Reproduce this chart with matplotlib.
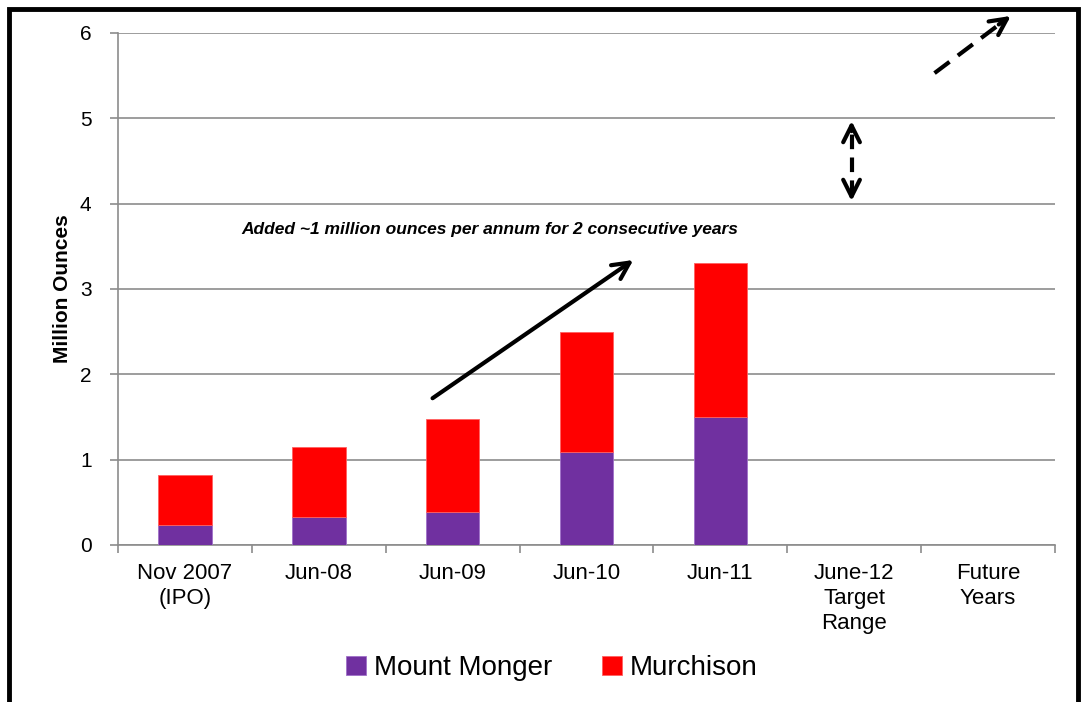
import matplotlib
matplotlib.use('Agg')
import matplotlib.pyplot as plt
from matplotlib.patches import Rectangle
import numpy as np

categories = ['Nov 2007\n(IPO)', 'Jun-08', 'Jun-09', 'Jun-10', 'Jun-11',
              'June-12\nTarget\nRange', 'Future\nYears']
mount_monger = [0.23, 0.33, 0.39, 1.09, 1.50, 0, 0]
murchison = [0.59, 0.82, 1.09, 1.41, 1.80, 0, 0]

purple = '#7030A0'
red = '#FF0000'
grey = '#8C8C8C'

plt.rcParams['font.family'] = ['Liberation Sans', 'DejaVu Sans']

fig = plt.figure(figsize=(10.85, 7.02), dpi=100)
ax = fig.add_axes([118 / 1085, 1 - 545 / 702, (1055 - 118) / 1085, (545 - 33) / 702])

x = np.arange(len(categories))
ax.bar(x, mount_monger, width=0.4, color=purple, edgecolor='#A070C8', linewidth=0.6,
       label='Mount Monger', zorder=3)
ax.bar(x, murchison, width=0.4, bottom=mount_monger, color=red, edgecolor='#FF6060',
       linewidth=0.6, label='Murchison', zorder=3)

ax.set_xlim(-0.5, len(categories) - 0.5)
ax.set_ylim(0, 6)
ax.set_yticks(range(0, 7))
ax.yaxis.grid(True, color=grey, linewidth=1.2, zorder=0)
ax.set_xticks(x)
ax.set_xticklabels(categories, fontsize=16, linespacing=1.25)
ax.set_xticks(np.arange(-0.5, len(categories)), minor=True)
ax.tick_params(axis='x', which='major', length=0, pad=13)
ax.tick_params(axis='x', which='minor', length=6, color=grey, width=1.2, direction='out')
ax.tick_params(axis='y', length=6, color=grey, width=1.2, labelsize=15, pad=13)
for side in ['top', 'right']:
    ax.spines[side].set_visible(False)
for side in ['left', 'bottom']:
    ax.spines[side].set_color(grey)
    ax.spines[side].set_linewidth(1.2)
ax.set_ylabel('Million Ounces', fontsize=15, fontweight='bold', labelpad=6)

head = dict(arrowstyle='->', color='black', lw=3, mutation_scale=30,
            shrinkA=0, shrinkB=0)

# solid growth arrow + annotation
ax.annotate('', xy=(3.35, 3.34), xytext=(1.85, 1.72), arrowprops=head)
ax.text(2.28, 3.70, 'Added ~1 million ounces per annum for 2 consecutive years',
        ha='center', va='center', fontsize=12.5, fontweight='bold', style='italic')

# dashed target range arrow (both ends)
ax.plot([4.98, 4.98], [4.1, 4.9], color='black', lw=3, dashes=(3.5, 2),
        dash_capstyle='butt')
ax.annotate('', xy=(4.98, 4.97), xytext=(4.98, 4.85), arrowprops=head)
ax.annotate('', xy=(4.98, 4.03), xytext=(4.98, 4.15), arrowprops=head)

# dashed future arrow
ax.plot([5.6, 6.1], [5.53, 6.12], color='black', lw=3, dashes=(4.5, 2.5),
        dash_capstyle='butt', clip_on=False)
ax.annotate('', xy=(6.17, 6.2), xytext=(6.08, 6.1), annotation_clip=False,
            arrowprops=head)

handles, labels = ax.get_legend_handles_labels()
fig.legend(handles, labels, loc='center', bbox_to_anchor=(552 / 1085, 1 - 668 / 702),
           ncol=2, frameon=False, fontsize=20, handlelength=0.7, handleheight=0.7,
           handletextpad=0.3, columnspacing=1.8)

# outer frame
fig.patches.append(Rectangle((9 / 1085, -0.05), (1078 - 9) / 1085, 1.05 - 9 / 702,
                             transform=fig.transFigure, fill=False, edgecolor='black',
                             linewidth=3.5))

fig.savefig('out.png', dpi=100)
